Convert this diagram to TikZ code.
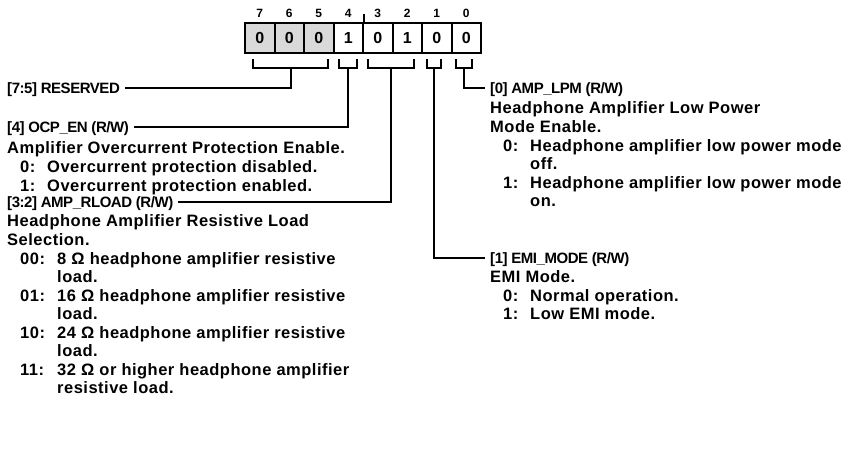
\documentclass[tikz,border=0pt]{standalone}
\usepackage{fontspec}
\setmainfont{Liberation Sans}
\newfontfamily\bodyfont{Liberation Sans}[LetterSpace=3]
\newfontfamily\headfont{Liberation Sans}[LetterSpace=-3]
\definecolor{resgray}{RGB}{217,217,217}
\tikzset{
 cell/.style={draw, line width=2pt, minimum width=29.5pt, minimum height=30pt, inner sep=0pt, font=\fontsize{16}{18}\selectfont\bfseries},
 bitnum/.style={inner sep=0pt, font=\fontsize{12}{13}\selectfont\bfseries},
 head/.style={anchor=base west, inner xsep=5pt, inner ysep=0pt, text height=10.8pt, text depth=0pt, font=\fontsize{15}{18}\headfont\bfseries},
 body/.style={anchor=base west, inner sep=0pt, font=\fontsize{16.5}{18}\bodyfont\bfseries},
 wire/.style={line width=1.8pt},
}
\newcommand\bl[4]{\node[body] (#1) at (#2,#3+5.9) {#4};}
\begin{document}
\begin{tikzpicture}[x=1pt,y=-1pt]
\useasboundingbox (0,0) rectangle (848,462);
% register
\foreach \b/\v [count=\i from 0] in {7/0,6/0,5/0,4/1,3/0,2/1,1/0,0/0}{
  \ifnum\b>4
    \node[cell, fill=resgray] (b\b) at (245+14.75+29.5*\i,38) {\v};
  \else
    \node[cell] (b\b) at (245+14.75+29.5*\i,38) {\v};
  \fi
  \node[bitnum] (n\b) at (245+14.75+29.5*\i,13) {\b};
}
\draw[wire] (b4.north east) -- ++(0,-8);
% brackets
\draw[wire] (253,59) -- (253,68) -- (328,68) -- (328,59);
\draw[wire] (339,59) -- (339,68) -- (357,68) -- (357,59);
\draw[wire] (368,59) -- (368,68) -- (414,68) -- (414,59);
\draw[wire] (427,59) -- (427,68) -- (441,68) -- (441,59);
\draw[wire] (456,59) -- (456,68) -- (472,68) -- (472,59);
\coordinate (s75) at (291,68);
\coordinate (s4) at (348,68);
\coordinate (s32) at (391,68);
\coordinate (s1) at (434,68);
\coordinate (s0) at (464,68);
% headings
\node[head] (rsv) at (2,88+5.4) {[7:5] RESERVED};
\node[head] (ocp) at (2,127+5.4) {[4] OCP\_EN (R/W)};
\node[head] (rload) at (2,202+5.4) {[3:2] AMP\_RLOAD (R/W)};
\node[head] (lpmt) at (485,88+5.4) {[0] AMP\_LPM (R/W)};
\node[head] (emit) at (485,258+5.4) {[1] EMI\_MODE (R/W)};
% connectors
\draw[wire] (s75) |- (rsv.east);
\draw[wire] (s4) |- (ocp.east);
\draw[wire] (s32) |- (rload.east);
\draw[wire] (s0) |- (lpmt.west);
\draw[wire] (s1) |- (emit.west);
% left body
\bl{o0}{7}{148}{Amplifier Overcurrent Protection Enable.}
\bl{o1a}{20}{167}{0:}
\bl{o1b}{47}{167}{Overcurrent protection disabled.}
\bl{o2a}{20}{186}{1:}
\bl{o2b}{47}{186}{Overcurrent protection enabled.}
\bl{r0}{7}{221}{Headphone Amplifier Resistive Load}
\bl{r1}{7}{240}{Selection.}
\bl{r2a}{20}{259}{00:}
\bl{r2b}{57}{259}{8 Ω headphone amplifier resistive}
\bl{r2c}{57}{277}{load.}
\bl{r3a}{20}{296}{01:}
\bl{r3b}{57}{296}{16 Ω headphone amplifier resistive}
\bl{r3c}{57}{314}{load.}
\bl{r4a}{20}{333}{10:}
\bl{r4b}{57}{333}{24 Ω headphone amplifier resistive}
\bl{r4c}{57}{351}{load.}
\bl{r5a}{20}{370}{11:}
\bl{r5b}{57}{370}{32 Ω or higher headphone amplifier}
\bl{r5c}{57}{388}{resistive load.}
% right body
\bl{l0}{490}{108}{Headphone Amplifier Low Power}
\bl{l1}{490}{127}{Mode Enable.}
\bl{l2a}{503}{146}{0:}
\bl{l2b}{530}{146}{Headphone amplifier low power mode}
\bl{l2c}{530}{164}{off.}
\bl{l3a}{503}{183}{1:}
\bl{l3b}{530}{183}{Headphone amplifier low power mode}
\bl{l3c}{530}{201}{on.}
\bl{e0}{490}{277}{EMI Mode.}
\bl{e1a}{503}{296}{0:}
\bl{e1b}{530}{296}{Normal operation.}
\bl{e2a}{503}{314}{1:}
\bl{e2b}{530}{314}{Low EMI mode.}
\end{tikzpicture}
\end{document}
